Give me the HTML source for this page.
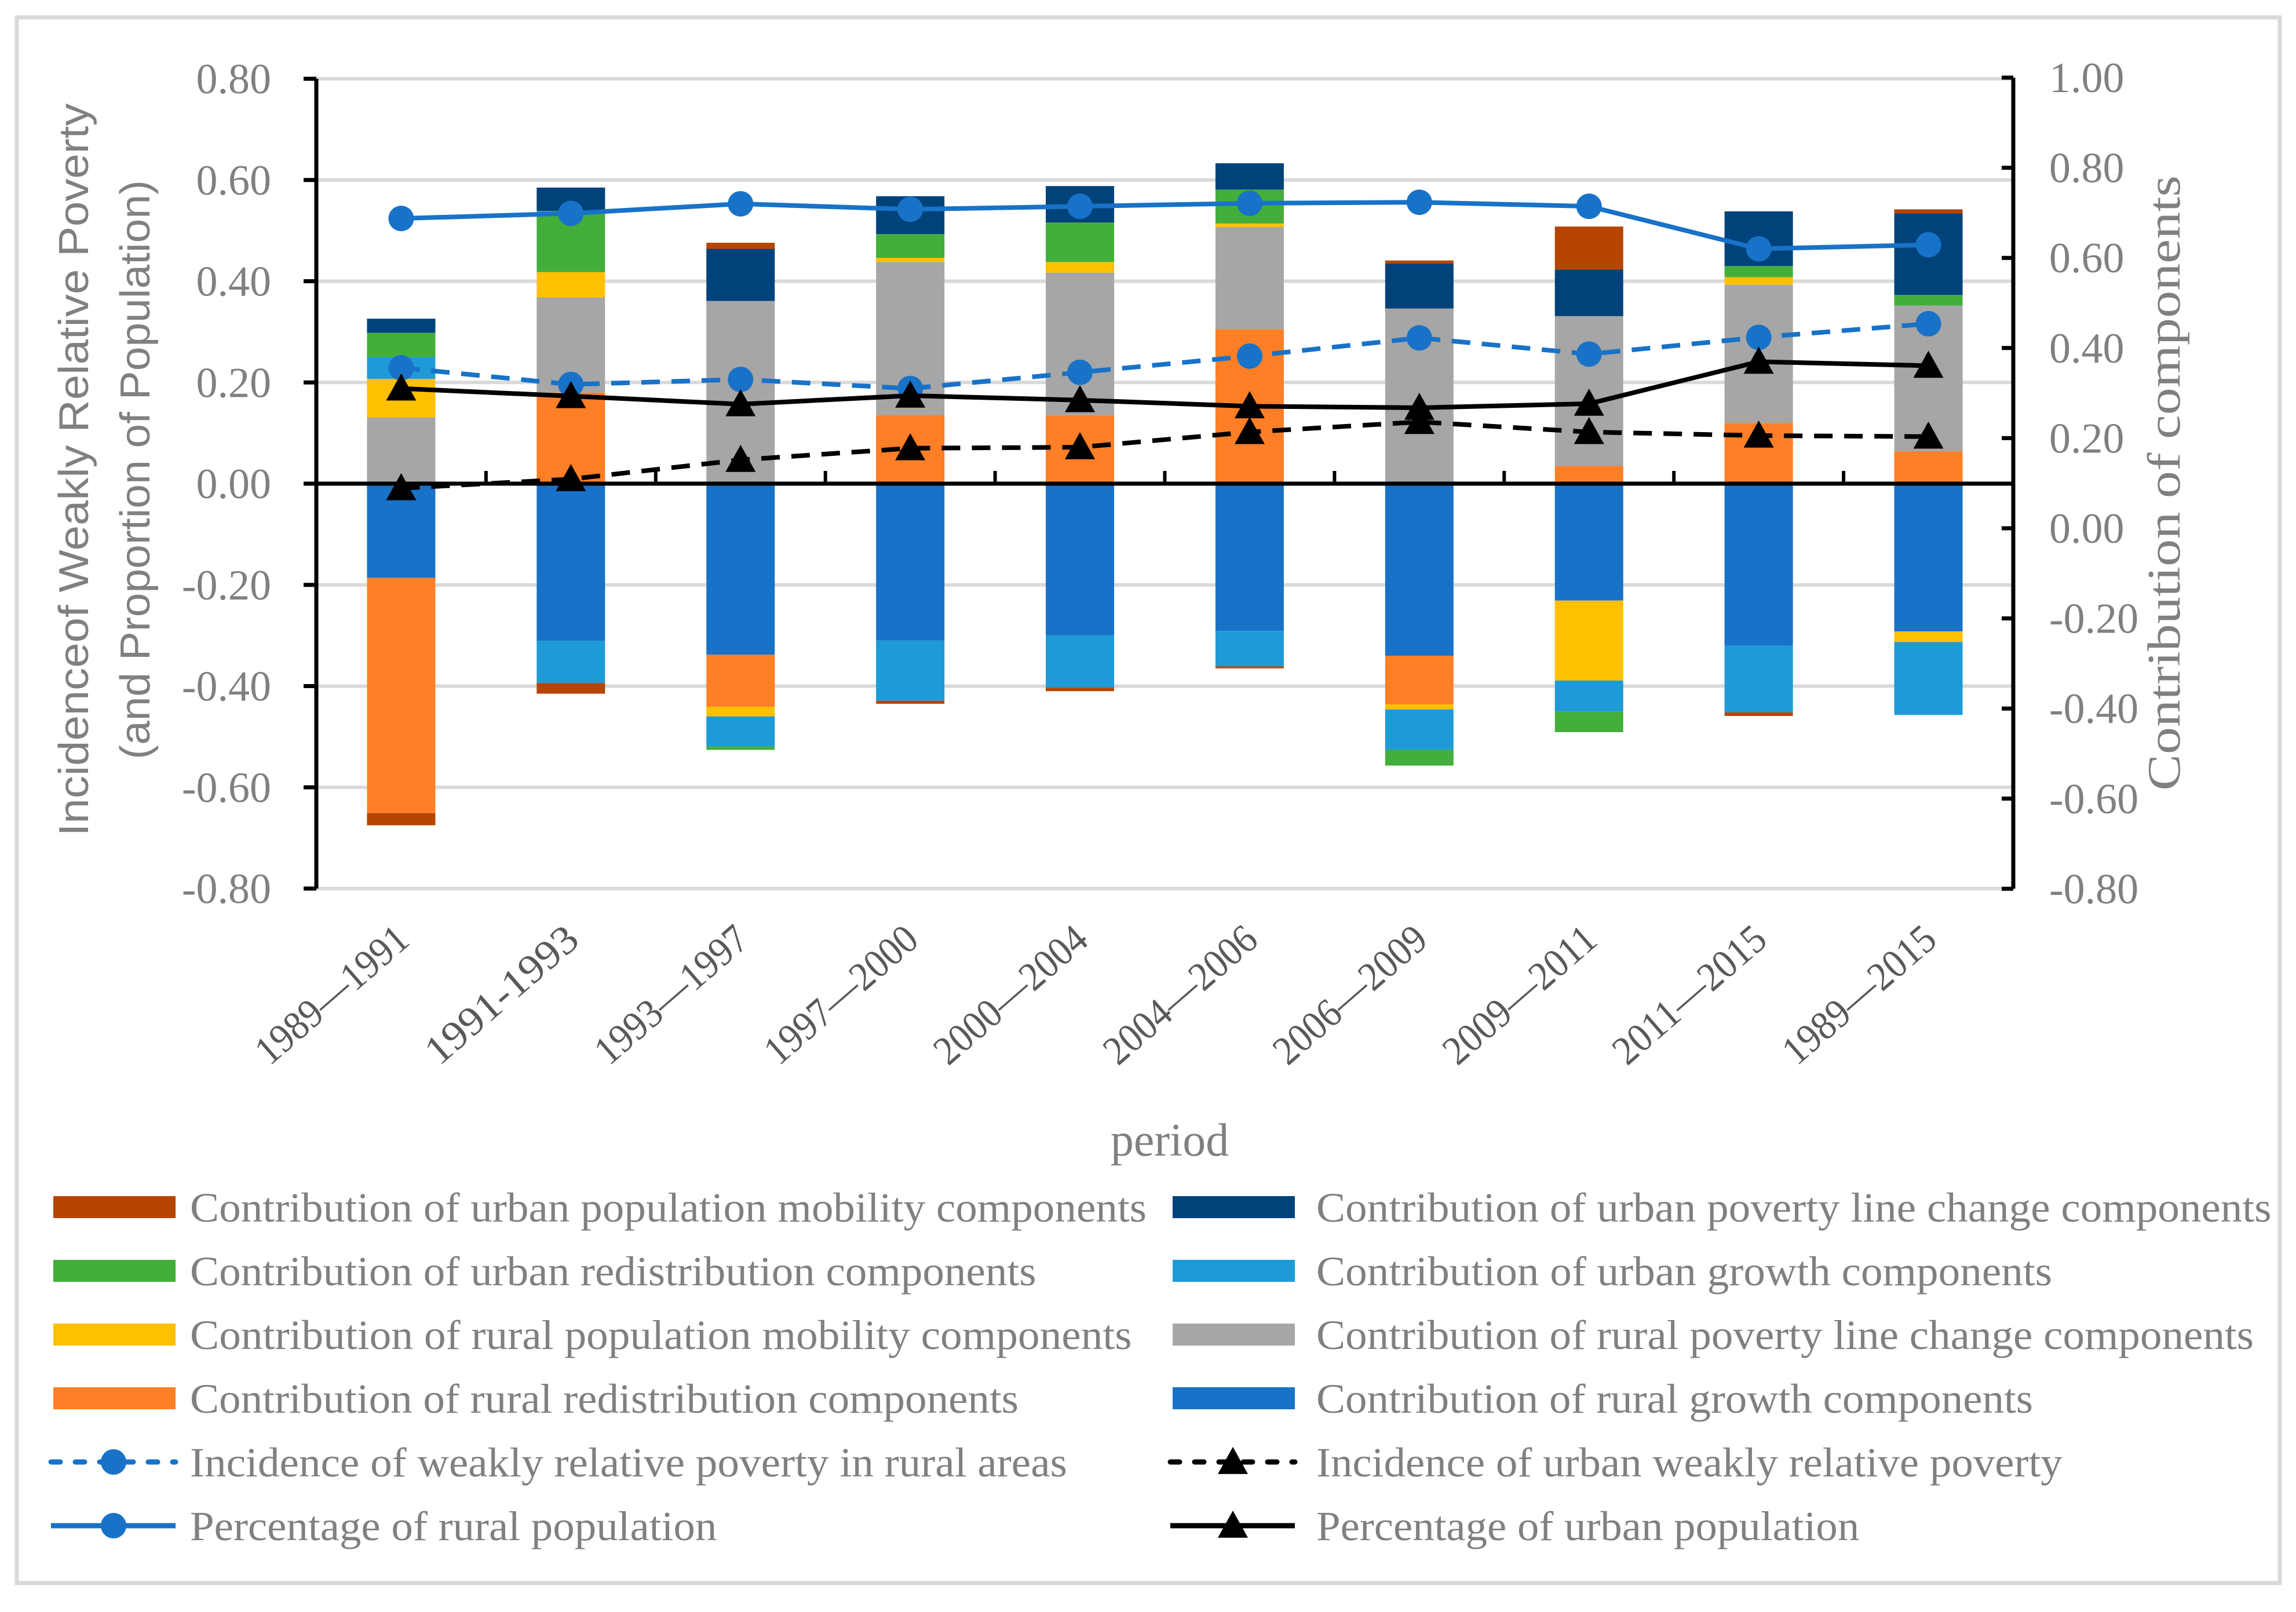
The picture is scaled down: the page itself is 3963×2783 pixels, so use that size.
<!DOCTYPE html>
<html><head><meta charset="utf-8"><style>
html,body{margin:0;padding:0;background:#fff;}
svg{display:block;}
text{font-family:"Liberation Serif",serif;}
</style></head><body>
<svg id="chart" width="3963" height="2783" viewBox="0 0 3963 2783" xmlns="http://www.w3.org/2000/svg">
<rect x="29" y="30" width="3906" height="2703" fill="#fff" stroke="#d9d9d9" stroke-width="7"/>
<g id="grid"></g>
<g id="bars"></g>
<g id="axes"></g>
<g id="lines"></g>
<g id="labels"></g>
<text transform="translate(152,811) rotate(-90)" text-anchor="middle" font-size="72" fill="#808080" style="font-family:'Liberation Sans',sans-serif" textLength="1265" lengthAdjust="spacingAndGlyphs">Incidenceof Weakly Relative Poverty</text>
<text transform="translate(258,811) rotate(-90)" text-anchor="middle" font-size="72" fill="#808080" style="font-family:'Liberation Sans',sans-serif" textLength="1000" lengthAdjust="spacingAndGlyphs">(and Proportion of Population)</text>
<text transform="translate(3762,834) rotate(-90)" text-anchor="middle" font-size="80" fill="#808080" textLength="1062" lengthAdjust="spacingAndGlyphs">Contribution of  components</text>
<text x="2019" y="1995" text-anchor="middle" font-size="80" fill="#808080">period</text>
<g id="legend"></g>
</svg>
<script>
const categories = ["1989—1991","1991-1993","1993—1997","1997—2000","2000—2004","2004—2006","2006—2009","2009—2011","2011—2015","1989—2015"];
const ruralGrowth   = [-0.186,-0.311,-0.338,-0.310,-0.300,-0.291,-0.340,-0.231,-0.320,-0.292];
const ruralRedist   = [-0.465, 0.180,-0.103, 0.136, 0.135, 0.305,-0.096, 0.035, 0.120, 0.064];
const ruralPovLine  = [ 0.131, 0.188, 0.361, 0.302, 0.282, 0.202, 0.346, 0.296, 0.273, 0.288];
const ruralMob      = [ 0.076, 0.050,-0.019, 0.008, 0.021, 0.007,-0.010,-0.158, 0.015,-0.021];
const urbanGrowth   = [ 0.043,-0.083,-0.059,-0.119,-0.103,-0.070,-0.080,-0.061,-0.132,-0.144];
const urbanRedist   = [ 0.048, 0.121,-0.007, 0.047, 0.078, 0.067,-0.031,-0.041, 0.022, 0.021];
const urbanPovLine  = [ 0.028, 0.046, 0.103, 0.075, 0.072, 0.052, 0.089, 0.092, 0.108, 0.161];
const urbanMob      = [-0.024,-0.021, 0.012,-0.006,-0.007,-0.004, 0.006, 0.085,-0.007, 0.008];
const ruralIncidence = [0.229,0.196,0.206,0.188,0.220,0.252,0.288,0.256,0.289,0.316];
const urbanIncidence = [-0.009,0.009,0.047,0.070,0.072,0.102,0.122,0.102,0.095,0.093];
const ruralPopPct    = [0.524,0.534,0.553,0.542,0.548,0.554,0.556,0.548,0.464,0.472];
const urbanPopPct    = [0.188,0.173,0.157,0.174,0.165,0.153,0.150,0.158,0.241,0.233];
const leftTicks  = ["0.80","0.60","0.40","0.20","0.00","-0.20","-0.40","-0.60","-0.80"];
const rightTicks = ["1.00","0.80","0.60","0.40","0.20","0.00","-0.20","-0.40","-0.60","-0.80"];

const NS="http://www.w3.org/2000/svg";
const X0=546, X1=3475, Y0=835, PU=873.75;
const RY0=912, RPU=778;
const cw=(X1-X0)/categories.length, BW=118;
function xc(i){return X0+cw*(i+0.5);}
function yL(v){return Y0-v*PU;}
function yR(v){return RY0-v*RPU;}
function mk(tag,attrs,parent){const e=document.createElementNS(NS,tag);for(const k in attrs)e.setAttribute(k,attrs[k]);parent.appendChild(e);return e;}
const grid=document.getElementById('grid'),bars=document.getElementById('bars'),axes=document.getElementById('axes'),lines=document.getElementById('lines'),labels=document.getElementById('labels'),legend=document.getElementById('legend');

leftTicks.forEach(t=>{const v=parseFloat(t);
 const g=mk('line',{x1:X0,x2:X1,y1:yL(v),y2:yL(v),stroke:'#d9d9d9','stroke-width':6},grid);
 
 
 const tk=mk('line',{x1:X0-22,x2:X0,y1:yL(v),y2:yL(v),stroke:'#000','stroke-width':7},axes);
 
 
 const tx=mk('text',{x:468,y:yL(v)+25,'text-anchor':'end','font-size':74,fill:'#808080'},labels);
 tx.textContent=t;
 
 
});
rightTicks.forEach(t=>{const v=parseFloat(t);
 const tk=mk('line',{x1:X1-20,x2:X1,y1:yR(v),y2:yR(v),stroke:'#000','stroke-width':7},axes);
 
 
 const tx=mk('text',{x:3537,y:yR(v)+25,'text-anchor':'start','font-size':74,fill:'#808080'},labels);
 tx.textContent=t;
 
 
});

const series=[
 {name:'Contribution of rural growth components',d:ruralGrowth,c:'#1872C8',id:'rural-growth'},
 {name:'Contribution of rural redistribution components',d:ruralRedist,c:'#FF7F27',id:'rural-redistribution'},
 {name:'Contribution of rural poverty line change components',d:ruralPovLine,c:'#A6A6A6',id:'rural-poverty-line'},
 {name:'Contribution of rural population mobility components',d:ruralMob,c:'#FFC000',id:'rural-mobility'},
 {name:'Contribution of urban growth components',d:urbanGrowth,c:'#1E9BD7',id:'urban-growth'},
 {name:'Contribution of urban redistribution components',d:urbanRedist,c:'#44AE3B',id:'urban-redistribution'},
 {name:'Contribution of urban poverty line change components',d:urbanPovLine,c:'#00427A',id:'urban-poverty-line'},
 {name:'Contribution of urban population mobility components',d:urbanMob,c:'#B54500',id:'urban-mobility'}
];
categories.forEach((c,i)=>{let pos=0,neg=0;
 series.forEach(s=>{const v=s.d[i];let a,b;
  if(v>=0){a=pos;b=pos+v;pos=b;}else{a=neg;b=neg+v;neg=b;}
  const yt=Math.min(yL(a),yL(b)),h=Math.abs(yL(a)-yL(b));
  const r=mk('rect',{x:xc(i)-BW/2,y:yt,width:BW,height:h,fill:s.c},bars);
  
  
 });
});
const la=mk('line',{x1:X0,x2:X0,y1:yL(0.8),y2:yL(-0.8),stroke:'#000','stroke-width':7},axes);


const ra=mk('line',{x1:X1,x2:X1,y1:yR(1),y2:yR(-0.8),stroke:'#000','stroke-width':7},axes);


const za=mk('line',{x1:X0,x2:X1,y1:Y0,y2:Y0,stroke:'#000','stroke-width':7},axes);


for(let i=1;i<categories.length;i++){
 const t=mk('line',{x1:X0+cw*i,x2:X0+cw*i,y1:Y0,y2:Y0-22,stroke:'#000','stroke-width':6},axes);
 
 
}
categories.forEach((c,i)=>{
 const t=mk('text',{transform:`translate(${xc(i)+18},${1628}) rotate(-41)`,'text-anchor':'end','font-size':70,fill:'#595959',textLength:325,lengthAdjust:'spacingAndGlyphs'},labels);
 t.textContent=c;
 
 
});
function tri(x,y,p,name){const s=26;const e=mk('polygon',{points:`${x},${y-s} ${x+s},${y+s*0.8} ${x-s},${y+s*0.8}`,fill:'#000'},p);
 
 }
function circ(x,y,p,name){const e=mk('ellipse',{cx:x,cy:y,rx:22,ry:22,fill:'#1872C8'},p);
 
 }
const lineSeries=[
 {d:ruralIncidence,c:'#1872C8',dash:'32 20',m:'c',id:'rural-incidence',name:'Incidence of weakly relative poverty in rural areas'},
 {d:urbanIncidence,c:'#000',dash:'32 20',m:'t',id:'urban-incidence',name:'Incidence of urban weakly relative poverty'},
 {d:ruralPopPct,c:'#1872C8',dash:'',m:'c',id:'rural-population',name:'Percentage of rural population'},
 {d:urbanPopPct,c:'#000',dash:'',m:'t',id:'urban-population',name:'Percentage of urban population'}
];
lineSeries.forEach(s=>{
 const pts=s.d.map((v,i)=>xc(i)+','+yL(v)).join(' ');
 const pl=mk('polyline',{points:pts,fill:'none',stroke:s.c,'stroke-width':8,'stroke-dasharray':s.dash||'none'},lines);
 
 
 s.d.forEach((v,i)=>{ if(s.m==='c')circ(xc(i),yL(v),lines,'marker-'+s.id); else tri(xc(i),yL(v),lines,'marker-'+s.id); });
});
const legOrder=[['b',7],['b',6],['b',5],['b',4],['b',3],['b',2],['b',1],['b',0],['l',0],['l',1],['l',2],['l',3]];
const legLen=[650,649,575,500,640,637,563,487,596,507,358,369];
legOrder.forEach((o,k)=>{
 const col=k%2,row=Math.floor(k/2);
 const sx=col?2024:92, tx=col?2272:328, cy=2084+row*110;
 const g=mk('g',{},legend);
 
 
 let name;
 if(o[0]==='b'){const s=series[o[1]];name=s.name;mk('rect',{x:sx,y:cy-19,width:211,height:38,fill:s.c},g);}
 else{const s=lineSeries[o[1]];name=s.name;
  mk('line',{x1:sx-4,x2:sx+211,y1:cy,y2:cy,stroke:s.c,'stroke-width':9,'stroke-dasharray':s.dash?'16 26':'none','stroke-linecap':s.dash?'round':'butt'},g);
  if(s.m==='c')circ(sx+104,cy,g,'legend-marker');else tri(sx+104,cy,g,'legend-marker');}
 const t=mk('text',{x:tx,y:cy+25,'font-size':72,fill:'#808080',textLength:legLen[k]*2.54,lengthAdjust:'spacingAndGlyphs'},g);
 t.textContent=name;
});
</script>
</body></html>
